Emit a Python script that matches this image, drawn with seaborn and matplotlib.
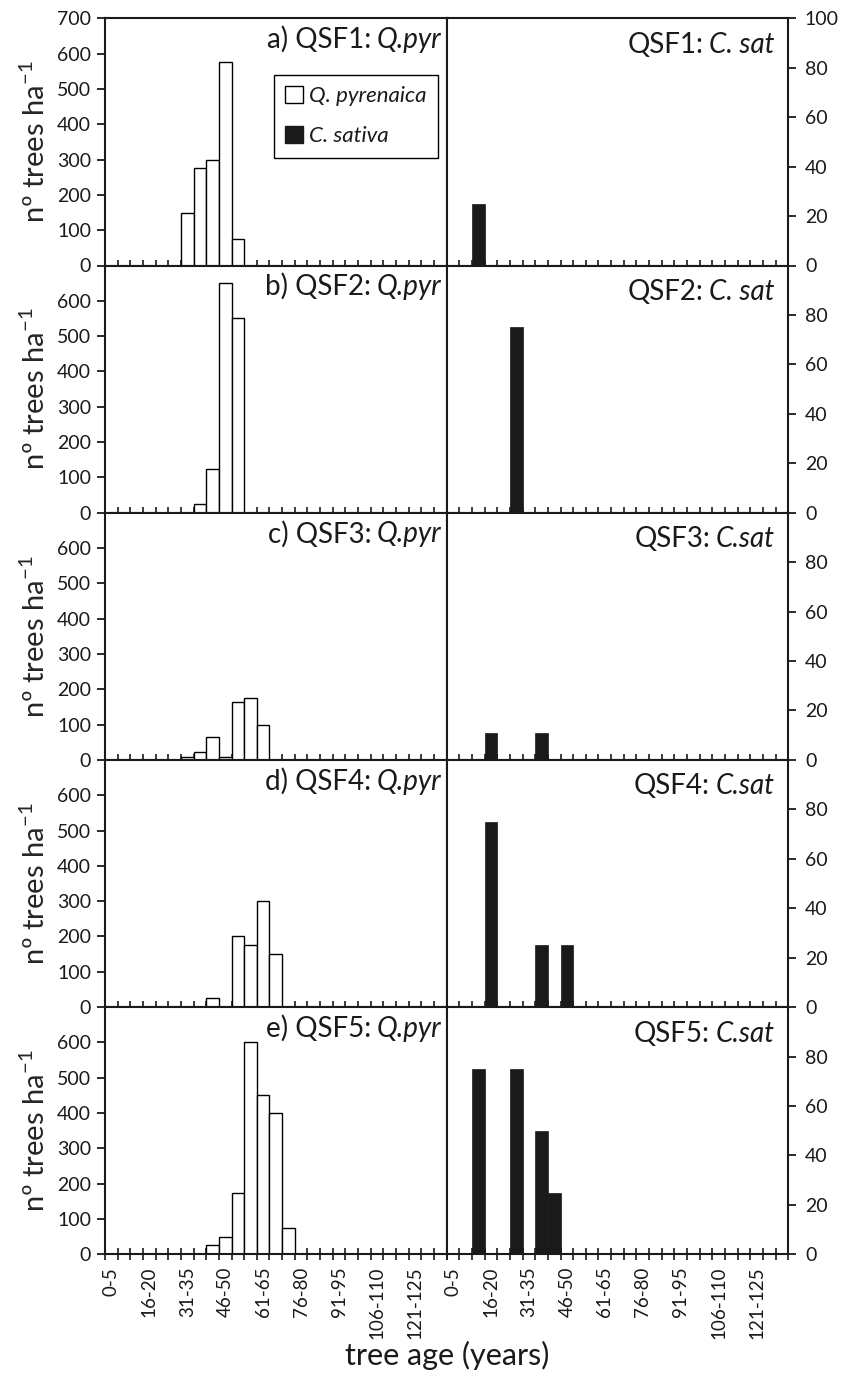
import numpy as np
import pandas as pd
import seaborn as sns
import matplotlib.pyplot as plt
from matplotlib.patches import Patch

ages = ['0-5', '6-10', '11-15', '16-20', '21-25', '26-30', '31-35', '36-40', '41-45',
        '46-50', '51-55', '56-60', '61-65', '66-70', '71-75', '76-80', '81-85', '86-90',
        '91-95', '96-100', '101-105', '106-110', '111-115', '116-120', '121-125',
        '126-130', '131-135']

# nº trees ha-1 per age class, Q. pyrenaica (left axis)
qpyr_1 = [0, 0, 0, 0, 0, 0, 150, 275, 300, 575, 75, 0, 0, 0, 0, 0, 0, 0, 0, 0, 0, 0, 0, 0, 0, 0, 0]
qpyr_2 = [0, 0, 0, 0, 0, 0, 0, 25, 125, 650, 550, 0, 0, 0, 0, 0, 0, 0, 0, 0, 0, 0, 0, 0, 0, 0, 0]
qpyr_3 = [0, 0, 0, 0, 0, 0, 8, 21, 65, 8, 165, 175, 100, 0, 0, 0, 0, 0, 0, 0, 0, 0, 0, 0, 0, 0, 0]
qpyr_4 = [0, 0, 0, 0, 0, 0, 0, 0, 25, 0, 200, 175, 300, 150, 0, 0, 0, 0, 0, 0, 0, 0, 0, 0, 0, 0, 0]
qpyr_5 = [0, 0, 0, 0, 0, 0, 0, 0, 25, 50, 175, 600, 450, 400, 75, 0, 0, 0, 0, 0, 0, 0, 0, 0, 0, 0, 0]

# C. sativa (right axis)
csat_1 = [0, 0, 25, 0, 0, 0, 0, 0, 0, 0, 0, 0, 0, 0, 0, 0, 0, 0, 0, 0, 0, 0, 0, 0, 0, 0, 0]
csat_2 = [0, 0, 0, 0, 0, 75, 0, 0, 0, 0, 0, 0, 0, 0, 0, 0, 0, 0, 0, 0, 0, 0, 0, 0, 0, 0, 0]
csat_3 = [0, 0, 0, 11, 0, 0, 0, 11, 0, 0, 0, 0, 0, 0, 0, 0, 0, 0, 0, 0, 0, 0, 0, 0, 0, 0, 0]
csat_4 = [0, 0, 0, 75, 0, 0, 0, 25, 0, 25, 0, 0, 0, 0, 0, 0, 0, 0, 0, 0, 0, 0, 0, 0, 0, 0, 0]
csat_5 = [0, 0, 75, 0, 0, 75, 0, 50, 25, 0, 0, 0, 0, 0, 0, 0, 0, 0, 0, 0, 0, 0, 0, 0, 0, 0, 0]

qpyr = [qpyr_1, qpyr_2, qpyr_3, qpyr_4, qpyr_5]
csat = [csat_1, csat_2, csat_3, csat_4, csat_5]
left_titles = ['a) QSF1:', 'b) QSF2:', 'c) QSF3:', 'd) QSF4:', 'e) QSF5:']
left_species = ['Q.pyr'] * 5
right_titles = ['QSF1:', 'QSF2:', 'QSF3:', 'QSF4:', 'QSF5:']
right_species = ['C. sat', 'C. sat', 'C.sat', 'C.sat', 'C.sat']

sns.set_style("white")
plt.rcParams['font.family'] = ['Lato', 'DejaVu Sans']
plt.rcParams['mathtext.fontset'] = 'custom'
plt.rcParams['mathtext.rm'] = 'Lato'
plt.rcParams['mathtext.it'] = 'Lato:italic'
plt.rcParams['text.color'] = '#1a1a1a'
plt.rcParams['xtick.color'] = '#1a1a1a'
plt.rcParams['ytick.color'] = '#1a1a1a'

W, H = 856, 1381
fig, axs = plt.subplots(5, 2, figsize=(W / 100, H / 100), dpi=100)
plt.subplots_adjust(left=105 / W, right=788.3 / W, top=1 - 18.3 / H, bottom=1 - 1254.3 / H,
                    wspace=0, hspace=0)

dark = '#1a1a1a'
n = len(ages)


def two_part_title(ax, x, y, plain, ital, size):
    t2 = ax.text(x, y, ital, transform=ax.transAxes, ha='right', va='top',
                 fontsize=size, style='italic')
    ax.annotate(plain, xy=(0, 0), xycoords=t2, xytext=(-4, 0), textcoords='offset points',
                ha='right', va='bottom', fontsize=size)


for i in range(5):
    axl, axr = axs[i, 0], axs[i, 1]
    dl = pd.DataFrame({'age': ages, 'value': qpyr[i]})
    dl = dl[dl['value'] > 0]
    dr = pd.DataFrame({'age': ages, 'value': csat[i]})
    dr = dr[dr['value'] > 0]

    sns.barplot(data=dl, x='age', y='value', order=ages, color='white', saturation=1,
                edgecolor='black', linewidth=1.0, width=1, errorbar=None, ax=axl)
    sns.barplot(data=dr, x='age', y='value', order=ages, color=dark, saturation=1,
                edgecolor=dark, linewidth=0.5, width=1, errorbar=None, ax=axr)

    axl.set_ylim(0, 700)
    axr.set_ylim(0, 100)
    axl.set_yticks(range(0, 701, 100) if i == 0 else range(0, 601, 100))
    axr.set_yticks(range(0, 101, 20) if i == 0 else range(0, 81, 20))
    axr.yaxis.tick_right()

    for ax in (axl, axr):
        ax.set_xlim(-0.5, n - 0.5)
        ax.set_xlabel('')
        ax.set_ylabel('')
        for sp in ax.spines.values():
            sp.set_visible(True)
            sp.set_linewidth(1.5)
            sp.set_color(dark)
        ax.set_xticks(range(0, n, 3))
        ax.set_xticks(np.arange(-0.5, n, 1), minor=True)
        ax.tick_params(axis='x', which='major', length=0, pad=9)
        if i == 4:
            ax.set_xticklabels(ages[::3], rotation=90, fontsize=13.5)
            ax.tick_params(axis='x', which='minor', direction='inout', length=8, width=1.2,
                           bottom=True)
        else:
            ax.tick_params(axis='x', which='both', labelbottom=False)
            ax.tick_params(axis='x', which='minor', direction='in', length=4, width=1.2,
                           bottom=True)
        ax.grid(False)

    axl.tick_params(axis='y', which='major', direction='out', length=6, width=1.3,
                    left=True, right=False, labelsize=14, pad=4)
    axr.tick_params(axis='y', which='major', direction='out', length=6, width=1.3,
                    right=True, left=False, labelsize=14, pad=6, labelright=True,
                    labelleft=False)

    two_part_title(axl, 0.985, 0.965, left_titles[i], left_species[i], 20)
    two_part_title(axr, 0.96, 0.945, right_titles[i], right_species[i], 20)

    axl.set_ylabel('nº trees ha$^{-1}$', fontsize=21)
    axl.yaxis.set_label_coords(-0.16, 0.5)

handles = [Patch(facecolor='white', edgecolor='black', linewidth=1.0),
           Patch(facecolor=dark, edgecolor=dark)]
leg = axs[0, 0].legend(handles, ['Q. pyrenaica', 'C. sativa'], loc='upper right',
                       bbox_to_anchor=(0.975, 0.771), borderaxespad=0, fancybox=False,
                       edgecolor='black', framealpha=1, prop={'style': 'italic', 'size': 16},
                       handlelength=0.8, handleheight=0.8, handletextpad=0.3,
                       labelspacing=0.9, borderpad=0.5)
leg.get_frame().set_linewidth(1.0)

fig.text(446.7 / W, 1 - 1355 / H, 'tree age (years)', ha='center', va='center', fontsize=22)

plt.savefig('out.png', dpi=100)
